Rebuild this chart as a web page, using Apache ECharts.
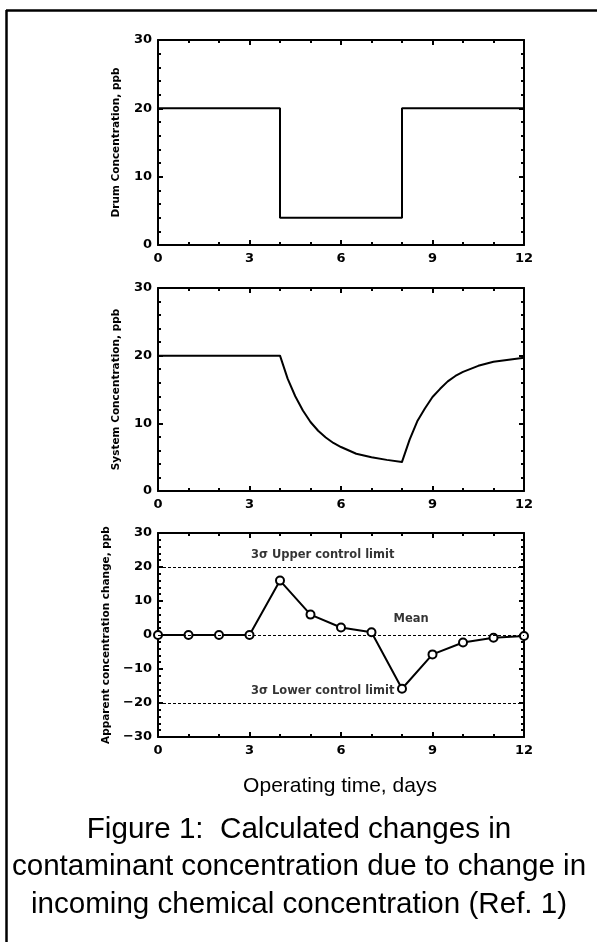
<!DOCTYPE html>
<html>
<head>
<meta charset="utf-8">
<script src="https://cdn.jsdelivr.net/npm/echarts@6/dist/echarts.min.js"></script>
<style>
  html, body { margin: 0; padding: 0; background: #fff; }
  #chart { width: 597px; height: 942px; }
</style>
</head>
<body>
<div id="chart"></div>
<script>
// drum concentration (step change)
const drumDays = [0, 4, 4, 8, 8, 12];
const drumValues = [20, 20, 4, 4, 20, 20];

// system concentration
const systemDays = [0, 4, 4.25, 4.5, 4.75, 5, 5.25, 5.5, 5.75, 6, 6.5, 7, 7.5, 8,
	8.25, 8.5, 8.75, 9, 9.25, 9.5, 9.75, 10, 10.5, 11, 11.5, 12];
const systemValues = [20, 20, 16.6, 14.0, 11.9, 10.2, 8.9, 7.9, 7.1, 6.5, 5.5, 5.0, 4.6, 4.3,
	7.6, 10.3, 12.2, 13.9, 15.1, 16.2, 17.0, 17.6, 18.5, 19.1, 19.4, 19.7];

// apparent concentration change, one point per day
const apparentDays = [0, 1, 2, 3, 4, 5, 6, 7, 8, 9, 10, 11, 12];
const apparentValues = [0, 0, 0, 0, 16, 6, 2.2, 0.8, -15.8, -5.7, -2.2, -0.8, -0.3];

// control limits and mean
const limitValues = [20, 0, -20];
const annotations = [
	{text: "3\u03c3 Upper control limit", day: 5.4, value: 23.5},
	{text: "Mean", day: 8.3, value: 4.6},
	{text: "3\u03c3 Lower control limit", day: 5.4, value: -16.4},
];

const yNames = ["Drum Concentration, ppb", "System Concentration, ppb", "Apparent concentration change, ppb"];
const yRanges = [[0, 30], [0, 30], [-30, 30]];
const nameGaps = [36, 36, 43];

const pair = (xs, ys) => xs.map((x, i) => [x, ys[i]]);

const chart = echarts.init(document.getElementById("chart"));

const grids = [
	{left: 158, right: 73, top: 40, height: 205},
	{left: 158, right: 73, top: 288, height: 203},
	{left: 158, right: 73, top: 533, height: 204},
];

const black = "#000";
const tickFont = {fontFamily: "DejaVu Sans", fontWeight: "bold", fontSize: 13, color: black};

const xAxes = [];
const yAxes = [];
grids.forEach((g, i) => {
	["bottom", "top"].forEach((pos) => {
		xAxes.push({
			type: "value",
			gridIndex: i,
			position: pos,
			min: 0,
			max: 12,
			interval: 3,
			axisLine: {show: true, onZero: false, lineStyle: {color: black, width: 2}},
			axisTick: {show: true, inside: true, length: 5, lineStyle: {color: black, width: 2}},
			minorTick: {show: true, splitNumber: 3, length: 3, lineStyle: {color: black, width: 2}},
			axisLabel: {show: pos === "bottom", margin: 7, ...tickFont},
			splitLine: {show: false},
		});
	});
	["left", "right"].forEach((pos) => {
		yAxes.push({
			type: "value",
			gridIndex: i,
			position: pos,
			min: yRanges[i][0],
			max: yRanges[i][1],
			interval: 10,
			name: pos === "left" ? yNames[i] : "",
			nameLocation: "middle",
			nameGap: nameGaps[i],
			nameRotate: 90,
			nameTextStyle: {fontFamily: "DejaVu Sans", fontWeight: "bold", fontSize: 10.5, color: black},
			axisLine: {show: true, onZero: false, lineStyle: {color: black, width: 2}},
			axisTick: {show: true, inside: true, length: 5, lineStyle: {color: black, width: 2}},
			minorTick: {show: true, splitNumber: 5, length: 3, lineStyle: {color: black, width: 2}},
			axisLabel: {
				show: pos === "left",
				margin: 6,
				...tickFont,
				formatter: (v) => String(v).replace("-", "\u2212"),
			},
			splitLine: {show: false},
		});
	});
});

const option = {
	animation: false,
	backgroundColor: "#fff",
	grid: grids,
	xAxis: xAxes,
	yAxis: yAxes,
	series: [
		{
			type: "line",
			xAxisIndex: 0,
			yAxisIndex: 0,
			data: pair(drumDays, drumValues),
			showSymbol: false,
			lineStyle: {color: black, width: 2},
		},
		{
			type: "line",
			xAxisIndex: 2,
			yAxisIndex: 2,
			data: pair(systemDays, systemValues),
			showSymbol: false,
			lineStyle: {color: black, width: 2, join: "round"},
		},
		{
			type: "line",
			xAxisIndex: 4,
			yAxisIndex: 4,
			data: pair(apparentDays, apparentValues),
			symbol: "emptyCircle",
			symbolSize: 8,
			itemStyle: {color: black, borderColor: black, borderWidth: 2},
			lineStyle: {color: black, width: 2},
			z: 3,
			markLine: {
				silent: true,
				symbol: "none",
				label: {show: false},
				lineStyle: {color: black, width: 1, type: [3, 2]},
				data: limitValues.map((v) => ({yAxis: v})),
			},
		},
		{
			type: "scatter",
			xAxisIndex: 4,
			yAxisIndex: 4,
			symbolSize: 0,
			silent: true,
			data: annotations.map((a) => ({name: a.text, value: [a.day, a.value]})),
			label: {
				show: true,
				position: "inside",
				formatter: (p) => p.name,
				fontFamily: "DejaVu Sans",
				fontWeight: "bold",
				fontSize: 11.5,
				color: black,
			},
		},
	],
	graphic: [
		{type: "line", shape: {x1: 6, y1: 10.5, x2: 597, y2: 10.5}, style: {stroke: black, lineWidth: 2.5}},
		{type: "line", shape: {x1: 6.5, y1: 10, x2: 6.5, y2: 942}, style: {stroke: black, lineWidth: 2.5}},
		{
			type: "text",
			x: 340,
			y: 776,
			style: {text: "Operating time, days", font: "21px 'Liberation Sans'", align: "center", fill: black},
		},
		{
			type: "text",
			x: 299,
			y: 811,
			style: {
				text: "Figure 1:  Calculated changes in\ncontaminant concentration due to change in\nincoming chemical concentration (Ref. 1)",
				font: "29.6px 'Liberation Sans'",
				lineHeight: 37.5,
				align: "center",
				fill: black,
			},
		},
	],
};

chart.setOption(option);
</script>
</body>
</html>
